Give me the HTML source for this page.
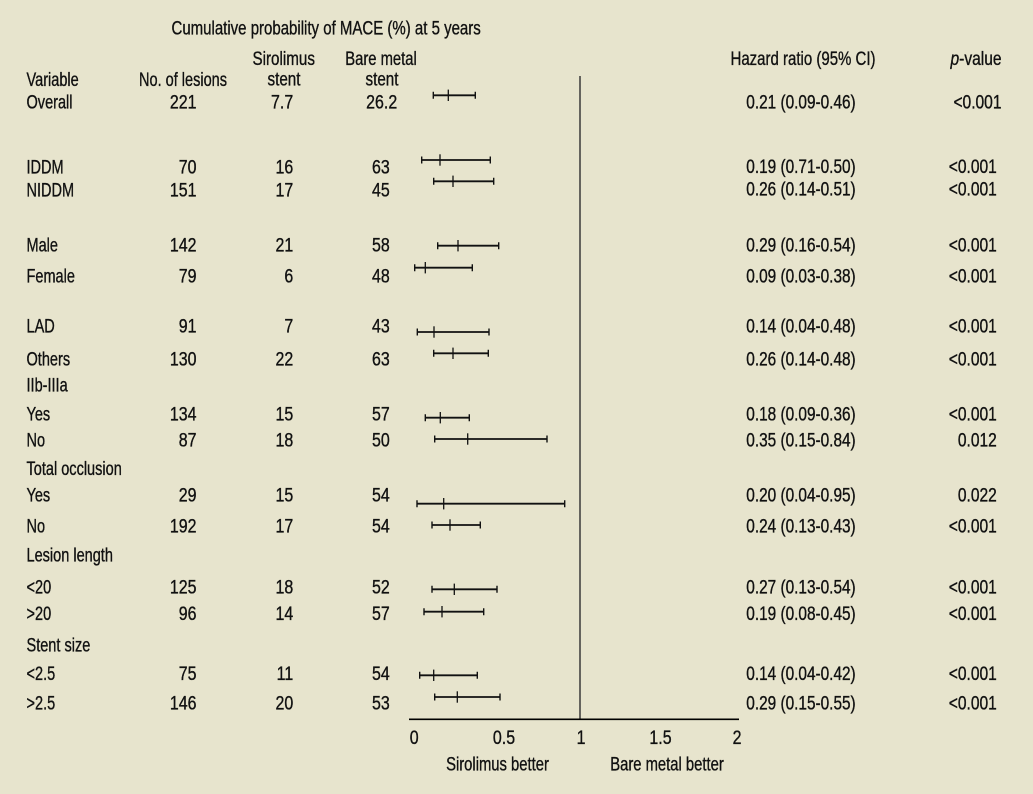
<!DOCTYPE html>
<html>
<head>
<meta charset="utf-8">
<style>
html,body{margin:0;padding:0;background:#e7e4cd;}
svg{display:block;}
text{font-family:"Liberation Sans",Arial,sans-serif;font-size:19px;fill:#111;stroke:#111;stroke-width:0.35;}
</style>
</head>
<body>
<svg width="1033" height="794" viewBox="0 0 1033 794" xmlns="http://www.w3.org/2000/svg">
<rect width="1033" height="794" fill="#e7e4cd"/>

<!-- Headers -->
<text transform="translate(171.5,34.5) scale(0.79,1)">Cumulative probability of MACE (%) at 5 years</text>
<text text-anchor="middle" transform="translate(283.7,65) scale(0.80,1)">Sirolimus</text>
<text text-anchor="middle" transform="translate(284,85.5) scale(0.80,1)">stent</text>
<text text-anchor="middle" transform="translate(381,65) scale(0.78,1)">Bare metal</text>
<text text-anchor="middle" transform="translate(382,85.5) scale(0.80,1)">stent</text>
<text transform="translate(26.5,86) scale(0.765,1)">Variable</text>
<text transform="translate(139,86) scale(0.765,1)">No. of lesions</text>
<text transform="translate(730.5,65) scale(0.79,1)">Hazard ratio (95% CI)</text>
<text transform="translate(950.5,65) scale(0.82,1)"><tspan font-style="italic">p</tspan>-value</text>

<!-- Row labels -->
<g>
<text transform="translate(26.5,108.3) scale(0.765,1)">Overall</text>
<text transform="translate(26.5,173.3) scale(0.765,1)">IDDM</text>
<text transform="translate(26.5,196.5) scale(0.765,1)">NIDDM</text>
<text transform="translate(26.5,251.7) scale(0.765,1)">Male</text>
<text transform="translate(26.5,282.3) scale(0.765,1)">Female</text>
<text transform="translate(26.5,332.3) scale(0.765,1)">LAD</text>
<text transform="translate(26.5,365.7) scale(0.765,1)">Others</text>
<text transform="translate(26.5,391.7) scale(0.765,1)">IIb-IIIa</text>
<text transform="translate(26.5,420.7) scale(0.765,1)">Yes</text>
<text transform="translate(26.5,446.7) scale(0.765,1)">No</text>
<text transform="translate(26.5,475) scale(0.765,1)">Total occlusion</text>
<text transform="translate(26.5,501.7) scale(0.765,1)">Yes</text>
<text transform="translate(26.5,532.7) scale(0.765,1)">No</text>
<text transform="translate(26.5,561.7) scale(0.765,1)">Lesion length</text>
<text transform="translate(26.5,593.3) scale(0.765,1)">&lt;20</text>
<text transform="translate(26.5,620) scale(0.765,1)">&gt;20</text>
<text transform="translate(26.5,651.7) scale(0.765,1)">Stent size</text>
<text transform="translate(26.5,680) scale(0.765,1)">&lt;2.5</text>
<text transform="translate(26.5,709.3) scale(0.765,1)">&gt;2.5</text>
</g>

<!-- No. of lesions -->
<g text-anchor="end">
<text transform="translate(196.5,108.3) scale(0.84,1)">221</text>
<text transform="translate(196.5,173.3) scale(0.84,1)">70</text>
<text transform="translate(196.5,196.5) scale(0.84,1)">151</text>
<text transform="translate(196.5,251.7) scale(0.84,1)">142</text>
<text transform="translate(196.5,282.3) scale(0.84,1)">79</text>
<text transform="translate(196.5,332.3) scale(0.84,1)">91</text>
<text transform="translate(196.5,365.7) scale(0.84,1)">130</text>
<text transform="translate(196.5,420.7) scale(0.84,1)">134</text>
<text transform="translate(196.5,446.7) scale(0.84,1)">87</text>
<text transform="translate(196.5,501.7) scale(0.84,1)">29</text>
<text transform="translate(196.5,532.7) scale(0.84,1)">192</text>
<text transform="translate(196.5,593.3) scale(0.84,1)">125</text>
<text transform="translate(196.5,620) scale(0.84,1)">96</text>
<text transform="translate(196.5,680) scale(0.84,1)">75</text>
<text transform="translate(196.5,709.3) scale(0.84,1)">146</text>
</g>

<!-- Sirolimus -->
<g text-anchor="end">
<text transform="translate(293.2,108.3) scale(0.84,1)">7.7</text>
<text transform="translate(293.2,173.3) scale(0.84,1)">16</text>
<text transform="translate(293.2,196.5) scale(0.84,1)">17</text>
<text transform="translate(293.2,251.7) scale(0.84,1)">21</text>
<text transform="translate(293.2,282.3) scale(0.84,1)">6</text>
<text transform="translate(293.2,332.3) scale(0.84,1)">7</text>
<text transform="translate(293.2,365.7) scale(0.84,1)">22</text>
<text transform="translate(293.2,420.7) scale(0.84,1)">15</text>
<text transform="translate(293.2,446.7) scale(0.84,1)">18</text>
<text transform="translate(293.2,501.7) scale(0.84,1)">15</text>
<text transform="translate(293.2,532.7) scale(0.84,1)">17</text>
<text transform="translate(293.2,593.3) scale(0.84,1)">18</text>
<text transform="translate(293.2,620) scale(0.84,1)">14</text>
<text transform="translate(293.2,680) scale(0.84,1)">11</text>
<text transform="translate(293.2,709.3) scale(0.84,1)">20</text>
</g>

<!-- Bare metal -->
<g text-anchor="end">
<text transform="translate(397.2,108.3) scale(0.84,1)">26.2</text>
<text transform="translate(389.8,173.3) scale(0.84,1)">63</text>
<text transform="translate(389.8,196.5) scale(0.84,1)">45</text>
<text transform="translate(389.8,251.7) scale(0.84,1)">58</text>
<text transform="translate(389.8,282.3) scale(0.84,1)">48</text>
<text transform="translate(389.8,332.3) scale(0.84,1)">43</text>
<text transform="translate(389.8,365.7) scale(0.84,1)">63</text>
<text transform="translate(389.8,420.7) scale(0.84,1)">57</text>
<text transform="translate(389.8,446.7) scale(0.84,1)">50</text>
<text transform="translate(389.8,501.7) scale(0.84,1)">54</text>
<text transform="translate(389.8,532.7) scale(0.84,1)">54</text>
<text transform="translate(389.8,593.3) scale(0.84,1)">52</text>
<text transform="translate(389.8,620) scale(0.84,1)">57</text>
<text transform="translate(389.8,680) scale(0.84,1)">54</text>
<text transform="translate(389.8,709.3) scale(0.84,1)">53</text>
</g>

<!-- Hazard ratios -->
<g>
<text transform="translate(746.3,108.3) scale(0.81,1)">0.21 (0.09-0.46)</text>
<text transform="translate(746.3,173) scale(0.81,1)">0.19 (0.71-0.50)</text>
<text transform="translate(746.3,195.3) scale(0.81,1)">0.26 (0.14-0.51)</text>
<text transform="translate(746.3,251.7) scale(0.81,1)">0.29 (0.16-0.54)</text>
<text transform="translate(746.3,282.3) scale(0.81,1)">0.09 (0.03-0.38)</text>
<text transform="translate(746.3,332.3) scale(0.81,1)">0.14 (0.04-0.48)</text>
<text transform="translate(746.3,365.7) scale(0.81,1)">0.26 (0.14-0.48)</text>
<text transform="translate(746.3,420.7) scale(0.81,1)">0.18 (0.09-0.36)</text>
<text transform="translate(746.3,446.7) scale(0.81,1)">0.35 (0.15-0.84)</text>
<text transform="translate(746.3,501.7) scale(0.81,1)">0.20 (0.04-0.95)</text>
<text transform="translate(746.3,532.7) scale(0.81,1)">0.24 (0.13-0.43)</text>
<text transform="translate(746.3,593.3) scale(0.81,1)">0.27 (0.13-0.54)</text>
<text transform="translate(746.3,620) scale(0.81,1)">0.19 (0.08-0.45)</text>
<text transform="translate(746.3,680) scale(0.81,1)">0.14 (0.04-0.42)</text>
<text transform="translate(746.3,709.3) scale(0.81,1)">0.29 (0.15-0.55)</text>
</g>

<!-- p-values -->
<g text-anchor="end">
<text transform="translate(1001.5,108.3) scale(0.82,1)">&lt;0.001</text>
<text transform="translate(996.8,173) scale(0.82,1)">&lt;0.001</text>
<text transform="translate(996.8,195.3) scale(0.82,1)">&lt;0.001</text>
<text transform="translate(996.8,251.7) scale(0.82,1)">&lt;0.001</text>
<text transform="translate(996.8,282.3) scale(0.82,1)">&lt;0.001</text>
<text transform="translate(996.8,332.3) scale(0.82,1)">&lt;0.001</text>
<text transform="translate(996.8,365.7) scale(0.82,1)">&lt;0.001</text>
<text transform="translate(996.8,420.7) scale(0.82,1)">&lt;0.001</text>
<text transform="translate(996.8,446.7) scale(0.82,1)">0.012</text>
<text transform="translate(996.8,501.7) scale(0.82,1)">0.022</text>
<text transform="translate(996.8,532.7) scale(0.82,1)">&lt;0.001</text>
<text transform="translate(996.8,593.3) scale(0.82,1)">&lt;0.001</text>
<text transform="translate(996.8,620) scale(0.82,1)">&lt;0.001</text>
<text transform="translate(996.8,680) scale(0.82,1)">&lt;0.001</text>
<text transform="translate(996.8,709.3) scale(0.82,1)">&lt;0.001</text>
</g>

<!-- Reference line and axis -->
<line x1="580" y1="76" x2="580" y2="719.3" stroke="#3a3a3a" stroke-width="1.5"/>
<line x1="409" y1="719.3" x2="739" y2="719.3" stroke="#000" stroke-width="1.6"/>

<!-- CI bars -->
<g stroke="#111" fill="none">
  <g stroke-width="1.8">
    <line x1="433.3" y1="95.3" x2="475.3" y2="95.3"/>
    <line x1="421.7" y1="160" x2="490.3" y2="160"/>
    <line x1="433.7" y1="181.3" x2="493.7" y2="181.3"/>
    <line x1="437.7" y1="245.7" x2="498.7" y2="245.7"/>
    <line x1="414.7" y1="267.7" x2="472.3" y2="267.7"/>
    <line x1="417.3" y1="332" x2="489" y2="332"/>
    <line x1="433.7" y1="353.3" x2="488.3" y2="353.3"/>
    <line x1="425.3" y1="417.7" x2="469.3" y2="417.7"/>
    <line x1="434.7" y1="439" x2="547" y2="439"/>
    <line x1="417" y1="503.7" x2="564.7" y2="503.7"/>
    <line x1="432" y1="525" x2="480.3" y2="525"/>
    <line x1="432" y1="589.3" x2="497" y2="589.3"/>
    <line x1="424" y1="611.7" x2="483.7" y2="611.7"/>
    <line x1="419.7" y1="675.3" x2="477.3" y2="675.3"/>
    <line x1="434.7" y1="697" x2="500" y2="697"/>
  </g>
  <g stroke-width="1.4">
    <path d="M433.3 91.8V98.8M475.3 91.8V98.8"/>
    <path d="M421.7 156.5V163.5M490.3 156.5V163.5"/>
    <path d="M433.7 177.8V184.8M493.7 177.8V184.8"/>
    <path d="M437.7 242.2V249.2M498.7 242.2V249.2"/>
    <path d="M414.7 264.2V271.2M472.3 264.2V271.2"/>
    <path d="M417.3 328.5V335.5M489 328.5V335.5"/>
    <path d="M433.7 349.8V356.8M488.3 349.8V356.8"/>
    <path d="M425.3 414.2V421.2M469.3 414.2V421.2"/>
    <path d="M434.7 435.5V442.5M547 435.5V442.5"/>
    <path d="M417 500.2V507.2M564.7 500.2V507.2"/>
    <path d="M432 521.5V528.5M480.3 521.5V528.5"/>
    <path d="M432 585.8V592.8M497 585.8V592.8"/>
    <path d="M424 608.2V615.2M483.7 608.2V615.2"/>
    <path d="M419.7 671.8V678.8M477.3 671.8V678.8"/>
    <path d="M434.7 693.5V700.5M500 693.5V700.5"/>
  </g>
  <g stroke-width="1.3">
    <path d="M448.3 89.6V101"/>
    <path d="M440 154.3V165.7"/>
    <path d="M453 175.6V187"/>
    <path d="M458 240V251.4"/>
    <path d="M425.3 262V273.4"/>
    <path d="M434 326.3V337.7"/>
    <path d="M453 347.6V359"/>
    <path d="M440.3 412V423.4"/>
    <path d="M467.7 433.3V444.7"/>
    <path d="M443.7 498V509.4"/>
    <path d="M450 519.3V530.7"/>
    <path d="M454.3 583.6V595"/>
    <path d="M442 606V617.4"/>
    <path d="M433.7 669.6V681"/>
    <path d="M457.3 691.3V702.7"/>
  </g>
</g>

<!-- Axis tick labels -->
<g text-anchor="middle">
<text transform="translate(414.2,744) scale(0.84,1)">0</text>
<text transform="translate(504,744) scale(0.84,1)">0.5</text>
<text transform="translate(581,744) scale(0.84,1)">1</text>
<text transform="translate(660.5,744) scale(0.84,1)">1.5</text>
<text transform="translate(737,744) scale(0.84,1)">2</text>
<text transform="translate(497.5,770.7) scale(0.78,1)">Sirolimus better</text>
<text transform="translate(667,770.7) scale(0.78,1)">Bare metal better</text>
</g>
</svg>
</body>
</html>
